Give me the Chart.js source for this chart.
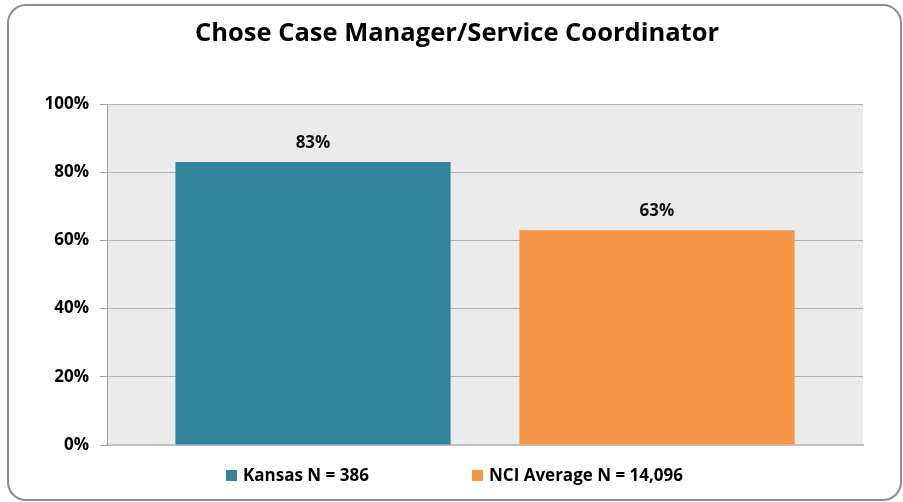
<!DOCTYPE html>
<html lang="en">
<head>
    <meta charset="UTF-8">
    <title>Chose Case Manager/Service Coordinator</title>
    <script src="https://cdn.jsdelivr.net/npm/chart.js"></script>
    <style>
        html, body { margin: 0; padding: 0; background: #fff; }
        #wrap { width: 903px; height: 502px; position: relative; }
    </style>
</head>
<body>
    <div id="wrap"><canvas id="grafico"></canvas></div>

    <script>
        // data
        const categorias = [""];
        const series = ["Kansas N = 386", "NCI Average N = 14,096"];
        const valores = [83, 63];
        const cores = ["#31849b", "#f79646"];
        const ticksY = [0, 20, 40, 60, 80, 100];
        const titulo = "Chose Case Manager/Service Coordinator";

        const fonte = "'Open Sans', sans-serif";

        // moldura arredondada, titulo e fundo cinza da area do grafico
        const fundo = {
            id: "fundo",
            beforeDraw(chart) {
                const c = chart.ctx, a = chart.chartArea;
                c.save();
                c.fillStyle = "#ebebeb";
                c.fillRect(a.left, a.top, a.right - a.left, a.bottom - a.top);
                c.restore();
            },
            afterDraw(chart) {
                const c = chart.ctx;
                c.save();
                c.strokeStyle = "#8c8c8c";
                c.lineWidth = 2;
                c.beginPath();
                c.roundRect(8, 5, 893, 495, 18);
                c.stroke();

                c.fillStyle = "#000";
                c.font = "bold 25.5px " + fonte;
                c.textAlign = "center";
                c.textBaseline = "middle";
                c.fillText(titulo, 457, 34);
                c.restore();
            }
        };

        // rotulos de valor acima das barras
        const rotulos = {
            id: "rotulos",
            afterDatasetsDraw(chart) {
                const c = chart.ctx;
                c.save();
                c.font = "bold 17px " + fonte;
                c.fillStyle = "#111";
                c.textAlign = "center";
                c.textBaseline = "middle";
                chart.data.datasets.forEach((ds, i) => {
                    chart.getDatasetMeta(i).data.forEach((bar, j) => {
                        c.fillText(ds.data[j] + "%", bar.x, bar.y - 19);
                    });
                });
                c.restore();
            }
        };

        // legenda embaixo, com os itens bem afastados como no original
        const legenda = {
            id: "legenda",
            afterDraw(chart) {
                const c = chart.ctx;
                const xs = [226, 472];
                c.save();
                c.font = "bold 17px " + fonte;
                c.textBaseline = "middle";
                chart.data.datasets.forEach((ds, i) => {
                    c.fillStyle = ds.backgroundColor;
                    c.fillRect(xs[i], 470, 11, 11);
                    c.fillStyle = "#000";
                    c.fillText(ds.label, xs[i] + 17, 476);
                });
                c.restore();
            }
        };

        new Chart(document.getElementById("grafico"), {
            type: "bar",
            data: {
                labels: categorias,
                datasets: series.map((nome, i) => ({
                    label: nome,
                    data: [valores[i]],
                    backgroundColor: cores[i],
                    categoryPercentage: 0.91,
                    barPercentage: 0.8
                }))
            },
            options: {
                responsive: true,
                maintainAspectRatio: false,
                animation: false,
                layout: { padding: { left: 0, right: 40, top: 104, bottom: 57 } },
                plugins: {
                    legend: { display: false },
                    tooltip: { enabled: false }
                },
                scales: {
                    x: {
                        grid: { display: false, drawTicks: false },
                        border: { color: "#c0c0c0", width: 2 },
                        ticks: { display: false }
                    },
                    y: {
                        min: 0,
                        max: 100,
                        afterFit(scale) { scale.width = 107; },
                        afterBuildTicks(scale) { scale.ticks = ticksY.map(v => ({ value: v })); },
                        grid: { color: "#b0b0b0", tickLength: 7, tickColor: "#a0a0a0" },
                        border: { color: "#a0a0a0", width: 1 },
                        ticks: {
                            color: "#000",
                            padding: 11,
                            font: { family: fonte, size: 17, weight: "bold" },
                            callback: v => v + "%"
                        }
                    }
                }
            },
            plugins: [fundo, rotulos, legenda]
        });
    </script>
</body>
</html>
